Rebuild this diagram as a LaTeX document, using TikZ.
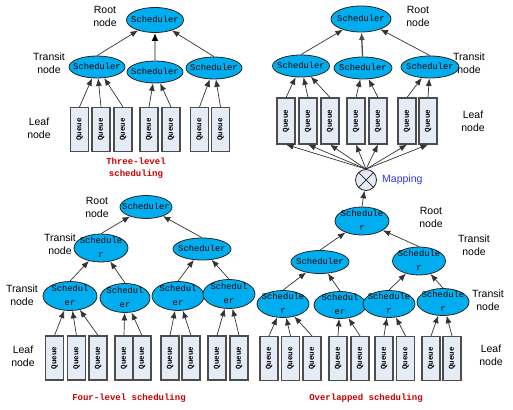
\documentclass[tikz,border=0pt]{standalone}
\usepackage{fontspec}
\setmainfont{Liberation Sans}
\newfontfamily\mymono{Liberation Mono}
\usetikzlibrary{shapes.geometric,arrows.meta}
\definecolor{schfill}{HTML}{00AEEF}
\definecolor{qfill}{HTML}{E6ECF6}
\definecolor{qdraw}{HTML}{4D4D4D}
\definecolor{redtxt}{HTML}{CC0000}
\definecolor{bluetxt}{HTML}{3333FF}
\newcommand\sch[1]{\raisebox{-0.32em}[0pt][0pt]{\makebox[0pt]{#1}}}
\newcommand\schtwo[2]{\raisebox{-0.25em}[0pt][0pt]{\makebox[0pt]{\begin{tabular}{@{}c@{}}#1\\#2\end{tabular}}}}
\newcommand\qtxt{\rotatebox{90}{\bfseries Queue}}
\tikzset{
  sched/.style={ellipse, draw=black!85, fill=schfill, line width=0.8pt, inner sep=0pt,
    minimum width=56pt, minimum height=22pt, font=\mymono\fontsize{8.8}{13.5}\selectfont},
  queue/.style={rectangle, draw=qdraw, fill=qfill, line width=1.1pt, inner sep=0pt,
    minimum width=18pt, minimum height=44pt, font=\mymono\fontsize{7.5}{8}\selectfont},
  arr/.style={draw=black!80, line width=0.7pt, -{Latex[length=7.5pt,width=6pt]}},
  lbl/.style={align=center, font=\fontsize{10.5}{13}\selectfont, inner sep=0pt},
  title/.style={align=center, text=redtxt, font=\mymono\bfseries\fontsize{9}{12}\selectfont, inner sep=0pt},
  mapc/.style={circle, draw=black!85, fill=qfill, line width=0.8pt, minimum size=21pt, inner sep=0pt}
}
\begin{document}
\begin{tikzpicture}[x=1pt,y=-1pt]
\useasboundingbox[fill=white] (0,0) rectangle (513,409);
% ---------------- Three-level (top left) ----------------
\node[sched, minimum width=57pt, minimum height=25pt] (tlr) at (155,20) {\sch{Scheduler}};
\node[sched] (tlt1) at (97,67) {\sch{Scheduler}};
\node[sched] (tlt2) at (155,72) {\sch{Scheduler}};
\node[sched] (tlt3) at (214,68) {\sch{Scheduler}};
\foreach \n/\x in {1/79.5,2/101,3/123,4/149,5/171,6/199.5,7/220.5}
  \node[queue] (tlq\n) at (\x,129.5) {\qtxt};
\foreach \n in {1,2,3} \draw[arr] (tlq\n.north) -- (tlt1);
\foreach \n in {4,5} \draw[arr] (tlq\n.north) -- (tlt2);
\foreach \n in {6,7} \draw[arr] (tlq\n.north) -- (tlt3);
\draw[arr] (tlt1.north) -- (tlr);
\draw[draw=gray!65, line width=2.2pt, -{Latex[length=8pt,width=7pt,color=black]}] (tlt2) -- (tlr);
\draw[arr] (tlt3.north) -- (tlr);
\node[lbl] (tlrootl) at (105,16) {Root\\node};
\node[lbl] (tltrl) at (49,63) {Transit\\node};
\node[lbl] (tlleafl) at (39,128) {Leaf\\node};
\node[title] (tltitle) at (136,168) {Three-level\\scheduling};
% ---------------- Mapping (top right) ----------------
\node[sched, minimum width=60pt, minimum height=26pt] (trr) at (361,19) {\sch{Scheduler}};
\node[sched, minimum width=57pt] (trt1) at (301,66) {\sch{Scheduler}};
\node[sched, minimum width=58pt] (trt2) at (363,68) {\sch{Scheduler}};
\node[sched, minimum width=58pt] (trt3) at (430,67) {\sch{Scheduler}};
\foreach \n/\x in {1/286,2/308,3/330,4/356,5/378,6/407,7/428}
  \node[queue, minimum height=46pt] (trq\n) at (\x,121) {\qtxt};
\foreach \n in {1,2,3} \draw[arr] (trq\n.north) -- (trt1);
\foreach \n in {4,5} \draw[arr] (trq\n.north) -- (trt2);
\foreach \n in {6,7} \draw[arr] (trq\n.north) -- (trt3);
\draw[arr] (trt1.north) -- (trr);
\draw[arr, draw=black!70, line width=1.3pt] (trt2) -- (trr);
\draw[arr] (trt3.north) -- (trr);
\node[lbl] (trrootl) at (418,16) {Root\\node};
\node[lbl] (trtrl) at (469,63) {Transit\\node};
\node[lbl] (trleafl) at (473,121) {Leaf\\node};
\node[mapc] (map) at (366,180) {};
\draw[black!85, line width=0.7pt] (map.north west) -- (map.south east) (map.north east) -- (map.south west);
\foreach \n in {1,...,7} \draw[arr] (map.north) -- (trq\n.south);
\node[lbl, anchor=west, text=bluetxt] (mapl) at (382,180) {Mapping};
% ---------------- Four-level (bottom left) ----------------
\node[sched, minimum width=52pt, minimum height=23pt] (blr) at (146,207) {\sch{Scheduler}};
\node[sched, minimum width=54pt, minimum height=28pt] (bla) at (101,248) {\schtwo{Schedule}{r}};
\node[sched, minimum width=58pt] (blb) at (202,249) {\sch{Scheduler}};
\node[sched, minimum width=54pt, minimum height=29pt] (blc) at (70,296) {\schtwo{Schedul}{er}};
\node[sched, minimum width=50pt, minimum height=29pt] (bld) at (125,298) {\schtwo{Schedul}{er}};
\node[sched, minimum width=52pt, minimum height=29pt] (ble) at (178,296) {\schtwo{Schedul}{er}};
\node[sched, minimum width=52pt, minimum height=29pt] (blf) at (229,294) {\schtwo{Schedul}{er}};
\foreach \n/\x in {1/54.5,2/76.5,3/98,4/124,5/142,6/170,7/191,8/217,9/239}
  \node[queue] (blq\n) at (\x,358) {\qtxt};
\foreach \n in {1,2,3} \draw[arr] (blq\n.north) -- (blc);
\foreach \n in {4,5} \draw[arr] (blq\n.north) -- (bld);
\foreach \n in {6,7} \draw[arr] (blq\n.north) -- (ble);
\foreach \n in {8,9} \draw[arr] (blq\n.north) -- (blf);
\draw[arr] (blc.north) -- (bla);
\draw[arr] (bld.north) -- (bla);
\draw[arr] (ble.north) -- (blb);
\draw[arr] (blf.north) -- (blb);
\draw[arr] (bla.north) -- (blr);
\draw[arr] (blb.north) -- (blr);
\node[lbl] (blrootl) at (97,207) {Root\\node};
\node[lbl] (bltr1) at (60,244) {Transit\\node};
\node[lbl] (bltr2) at (22,295) {Transit\\node};
\node[lbl] (blleafl) at (23,356) {Leaf\\node};
\node[title] (bltitle) at (129,398) {Four-level scheduling};
% ---------------- Overlapped (bottom right) ----------------
\node[sched, minimum width=54pt, minimum height=28pt] (brr) at (362,221) {\schtwo{Schedule}{r}};
\node[sched, minimum width=58pt, minimum height=23pt] (bra) at (320,262) {\sch{Scheduler}};
\node[sched, minimum width=53pt, minimum height=28pt] (brb) at (419,261) {\schtwo{Schedule}{r}};
\node[sched, minimum width=52pt, minimum height=27pt] (brc) at (283,304) {\schtwo{Schedule}{r}};
\node[sched, minimum width=52pt, minimum height=27pt] (brd) at (340,305) {\schtwo{Schedul}{er}};
\node[sched, minimum width=52pt, minimum height=27pt] (bre) at (389,304) {\schtwo{Schedule}{r}};
\node[sched, minimum width=52pt, minimum height=27pt] (brf) at (443,302) {\schtwo{Schedule}{r}};
\foreach \n/\x in {1/269,2/290.5,3/312,4/338,5/360,6/384,7/405.5,8/431,9/452}
  \node[queue] (brq\n) at (\x,358.5) {\qtxt};
\foreach \n in {1,2,3} \draw[arr] (brq\n.north) -- (brc);
\foreach \n in {4,5} \draw[arr] (brq\n.north) -- (brd);
\foreach \n in {6,7} \draw[arr] (brq\n.north) -- (bre);
\foreach \n in {8,9} \draw[arr] (brq\n.north) -- (brf);
\draw[arr] (brc.north) -- (bra);
\draw[arr] (brd.north) -- (bra);
\draw[arr] (bre.north) -- (brb);
\draw[arr] (brf.north) -- (brb);
\draw[arr] (bra.north) -- (brr);
\draw[arr] (brb.north) -- (brr);
\draw[arr] (brr.north) -- (map);
\node[lbl] (brrootl) at (431,217) {Root\\node};
\node[lbl] (brtr1) at (474,245) {Transit\\node};
\node[lbl] (brtr2) at (488,300) {Transit\\node};
\node[lbl] (brleafl) at (491,355) {Leaf\\node};
\node[title] (brtitle) at (366,398) {Overlapped scheduling};
\end{tikzpicture}
\end{document}
